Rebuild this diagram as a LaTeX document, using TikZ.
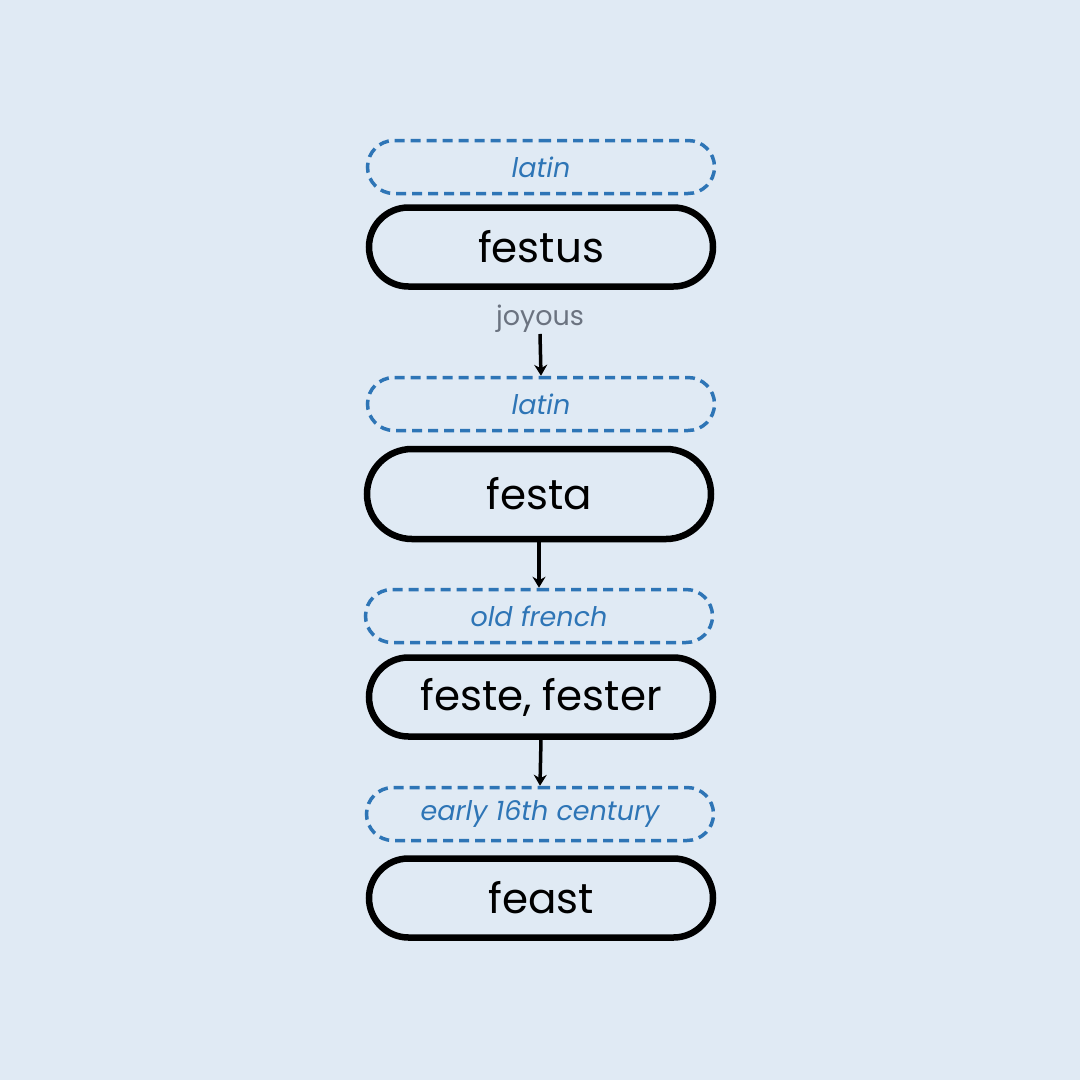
\documentclass[tikz,border=0pt]{standalone}
\usepackage{fontspec}
\setmainfont{Poppins}
\usepackage{tikz}
\usetikzlibrary{shapes.misc, arrows.meta, positioning}

\definecolor{bgblue}{HTML}{E0EAF4}
\definecolor{tagblue}{HTML}{2E75B6}
\definecolor{notegray}{HTML}{6B7380}

\begin{document}
\begin{tikzpicture}[
    x=1pt, y=-1pt,
    word/.style={rounded rectangle, draw=black, line width=6.5pt,
                 minimum width=344pt, minimum height=79pt, inner sep=0pt,
                 font=\fontsize{42}{48}\selectfont},
    tag/.style={rounded rectangle, draw=tagblue, line width=3.5pt,
                dash pattern=on 10pt off 6pt, text=tagblue,
                minimum width=347pt, minimum height=53pt, inner sep=0pt,
                font=\fontsize{27}{32}\selectfont\itshape},
    note/.style={text=notegray, inner sep=1pt, font=\fontsize{27}{32}\selectfont},
    arrow/.style={-{Stealth[length=11pt, width=13pt]}, line width=3.5pt},
  ]

  % canvas (pixel grid of the reference)
  \fill[bgblue] (0,0) rectangle (1080,1080);
  \useasboundingbox (0,0) rectangle (1080,1080);

  % row y-centres
  \def\xM{541}
  \def\yTagA{167}  \def\yWordA{247}
  \def\yNote{319}
  \def\yTagB{404}  \def\yWordB{494}
  \def\yTagC{616}  \def\yWordC{697}
  \def\yTagD{814}  \def\yWordD{898}

  % -- latin: festus ---------------------------------------------------
  \node[tag]  (tA) at (\xM, \yTagA)  {latin};
  \node[word] (wA) at (\xM, \yWordA) {festus};
  \node[note] (jA) at (540, \yNote)  {joyous};

  % -- latin: festa ----------------------------------------------------
  \node[tag]  (tB) at (\xM, \yTagB)  {latin};
  \node[word, minimum height=90pt] (wB) at (539, \yWordB) {festa};

  % -- old french: feste, fester ---------------------------------------
  \node[tag]  (tC) at (539, \yTagC)  {old french};
  \node[word] (wC) at (\xM, \yWordC) {feste, fester};

  % -- early 16th century: feast ---------------------------------------
  \node[tag]  (tD) at (540, \yTagD)  {early 16th century};
  \node[word] (wD) at (\xM, \yWordD) {feast};

  \draw[arrow] (jA.south) -- (tB.north);
  \draw[arrow] (wB.south) -- (tC.north);
  \draw[arrow] (wC.south) -- (tD.north);

\end{tikzpicture}
\end{document}
